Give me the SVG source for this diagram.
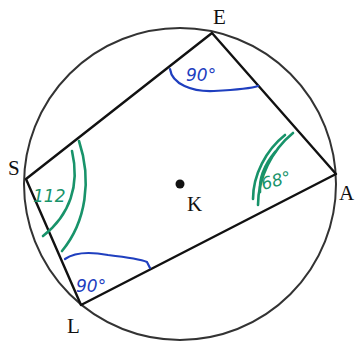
<svg xmlns="http://www.w3.org/2000/svg" width="358" height="343" viewBox="0 0 358 343">
<style>
.ln{fill:none;stroke:#111;stroke-width:2.4;stroke-linejoin:round}
.circ{fill:none;stroke:#333;stroke-width:2}
.lbl{font-family:"Liberation Serif",serif;font-size:21px;fill:#111}
.blue{fill:none;stroke:#1f3fbf;stroke-width:2.2;stroke-linecap:round}
.green{fill:none;stroke:#18936a;stroke-width:2.6;stroke-linecap:round}
.bt{font-family:"DejaVu Sans",sans-serif;font-style:italic;font-size:17px;fill:#1f3fbf}
.gt{font-family:"DejaVu Sans",sans-serif;font-style:italic;font-size:17px;fill:#18936a}
</style>
<rect width="358" height="343" fill="#fff"/>
<circle class="circ" cx="180" cy="184" r="156"/>
<g id="connectors">
<polygon class="ln" points="212,33 336,174 81,305 26,179"/>
</g>
<g id="K"><circle cx="180" cy="184" r="4.5" fill="#111"/><text class="lbl" x="187" y="211">K</text></g>
<g id="E">
<text class="lbl" x="213" y="24">E</text>
<path class="blue" d="M170,69 C172,84 192,92 214,91 C232,90 250,89 258,86"/>
<text class="bt" x="186" y="81">90°</text>
</g>
<g id="A">
<text class="lbl" x="339" y="200">A</text>
<path class="green" d="M293,133 C272,150 258,178 258,205"/>
<path class="green" d="M285,135 C266,150 253,175 253,199"/>
<path class="green" d="M275,152 C265,164 259,178 260,192"/>
<text class="gt" x="263" y="190" transform="rotate(-15 263 190)">68°</text>
</g>
<g id="S">
<text class="lbl" x="8" y="175">S</text>
<path class="green" d="M79,141 C92,180 86,222 62,251"/>
<path class="green" d="M72,151 C80,185 70,215 43,236"/>
<text class="gt" x="33" y="202">112</text>
</g>
<g id="L">
<text class="lbl" x="67" y="333">L</text>
<path class="blue" d="M65,259 C75,252 92,252 108,255 C125,257 140,259 147,262 L150,268"/>
<text class="bt" x="76" y="292">90°</text>
</g>
</svg>
